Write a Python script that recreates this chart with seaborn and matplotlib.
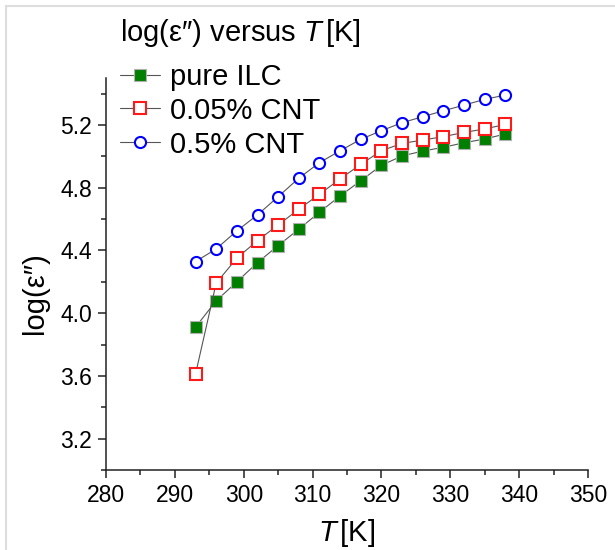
import matplotlib
matplotlib.use("Agg")
import matplotlib.pyplot as plt
from matplotlib.lines import Line2D
from matplotlib.ticker import MultipleLocator
import pandas as pd
import seaborn as sns

# данные
temps = [293, 296, 299, 302, 305, 308, 311, 314, 317, 320, 323, 326, 329, 332, 335, 338]
pure_ilc = [3.911, 4.079, 4.200, 4.323, 4.431, 4.536, 4.644, 4.748,
            4.845, 4.943, 5.003, 5.034, 5.058, 5.087, 5.111, 5.143]
cnt_005 = [3.612, 4.192, 4.351, 4.463, 4.563, 4.663, 4.759, 4.856,
           4.950, 5.036, 5.083, 5.104, 5.126, 5.153, 5.175, 5.204]
cnt_05 = [4.329, 4.410, 4.525, 4.627, 4.743, 4.861, 4.960, 5.036,
          5.109, 5.164, 5.215, 5.253, 5.291, 5.327, 5.364, 5.391]
labels = ["pure ILC", "0.05% CNT", "0.5% CNT"]

sns.set_style("ticks")
plt.rcParams["font.family"] = ["Liberation Sans", "DejaVu Sans"]
plt.rcParams["mathtext.fontset"] = "custom"
plt.rcParams["mathtext.rm"] = "Liberation Sans"
plt.rcParams["mathtext.it"] = "Liberation Sans:italic"
# seaborn делает текст серым, в оригинале чёрный
for key in ["text.color", "axes.labelcolor", "xtick.labelcolor", "ytick.labelcolor"]:
    plt.rcParams[key] = "black"

df = pd.DataFrame({"T": temps * 3,
                   "val": pure_ilc + cnt_005 + cnt_05,
                   "series": [labels[0]] * 16 + [labels[1]] * 16 + [labels[2]] * 16})

fig = plt.figure(figsize=(6.15, 5.5), dpi=100)
ax = fig.add_axes([0.1724, 0.1455, 0.7837, 0.7127])

styles = {
    labels[0]: dict(marker="s", markerfacecolor="#007f00", markeredgecolor="#b0b0b0", markeredgewidth=0.8),
    labels[1]: dict(marker="s", markerfacecolor="white", markeredgecolor="#ff1a1a", markeredgewidth=1.5),
    labels[2]: dict(marker="o", markerfacecolor="white", markeredgecolor="#0000ff", markeredgewidth=1.5),
}
for name in labels:
    sub = df[df["series"] == name]
    sns.lineplot(data=sub, x="T", y="val", ax=ax, color="#555555", linewidth=0.8,
                 markersize=8, label=name, **styles[name])

ax.set_xlim(280, 350)
ax.set_ylim(3.0, 5.5)
ax.xaxis.set_major_locator(MultipleLocator(10))
ax.xaxis.set_minor_locator(MultipleLocator(5))
ax.yaxis.set_minor_locator(MultipleLocator(0.2))
ax.set_yticks([3.2, 3.6, 4.0, 4.4, 4.8, 5.2])
ax.tick_params(which="major", direction="out", length=6, width=1.1, labelsize=16.5, pad=4, color="#222222")
ax.tick_params(which="minor", direction="out", length=3.5, width=1.1, color="#222222")
for side in ["top", "right"]:
    ax.spines[side].set_visible(False)
for side in ["left", "bottom"]:
    ax.spines[side].set_linewidth(1.1)
    ax.spines[side].set_color("#222222")

ax.set_xlabel(r"$\mathit{T}\,$[K]", fontsize=21)
ax.set_ylabel("log(ε″)", fontsize=21)
ax.yaxis.set_label_coords(-0.118, 0.45)
ax.xaxis.set_label_coords(0.5, -0.12)

leg = ax.legend(loc="upper left", bbox_to_anchor=(0.186, 0.979), bbox_transform=fig.transFigure,
                frameon=False, fontsize=21, title=r"log(ε″) versus $\mathit{T}\,$[K]",
                title_fontsize=21, alignment="left", handlelength=1.35, handletextpad=0.35,
                labelspacing=0.2, borderpad=0.2, borderaxespad=0)
# зазор между заголовком легенды и строками побольше
leg._legend_box.sep = 0.2 * 21 + 5.5

# светло-серая рамка по краю, как на исходнике
fig.add_artist(Line2D([6 / 615, 6 / 615], [0, 1 - 6 / 550], transform=fig.transFigure,
                      color="#dddddd", linewidth=1.5))
fig.add_artist(Line2D([6 / 615, 1], [1 - 6 / 550, 1 - 6 / 550], transform=fig.transFigure,
                      color="#dddddd", linewidth=1.5))

fig.savefig("out.png", dpi=100)
plt.close(fig)
